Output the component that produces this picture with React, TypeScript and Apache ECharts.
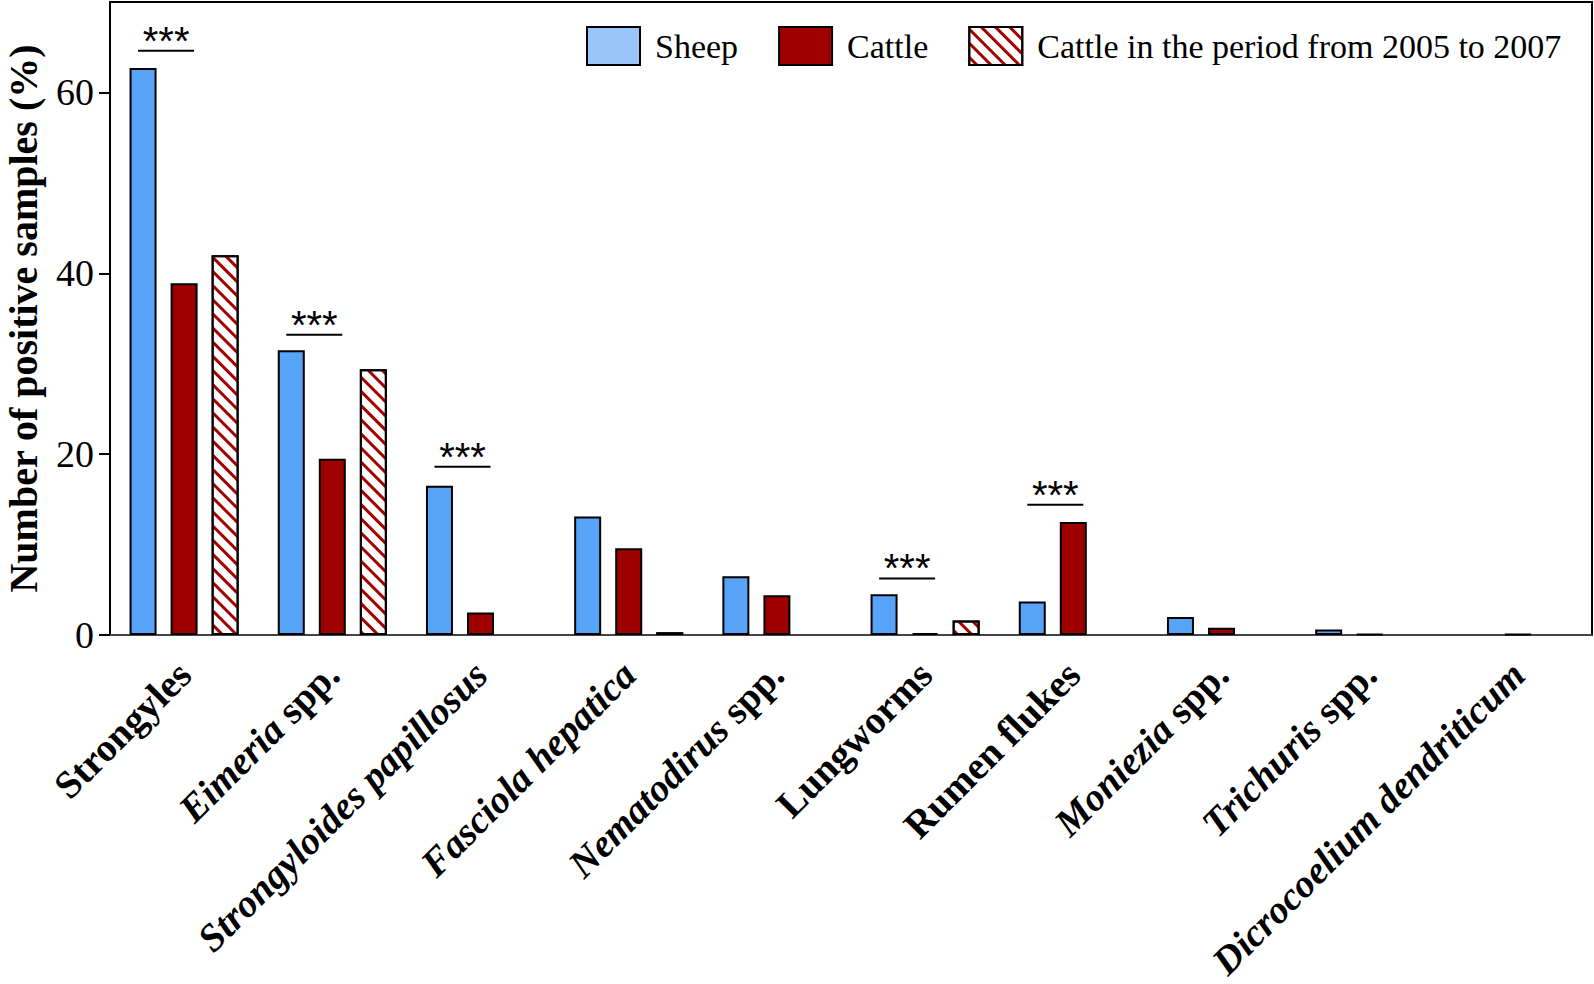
import React, { useEffect, useRef } from "react";
import * as echarts from "echarts";

const categories = [
  "Strongyles",
  "Eimeria spp.",
  "Strongyloides papillosus",
  "Fasciola hepatica",
  "Nematodirus spp.",
  "Lungworms",
  "Rumen flukes",
  "Moniezia spp.",
  "Trichuris spp.",
  "Dicrocoelium dendriticum",
];
const italicNames = ["Strongyloides papillosus", "Fasciola hepatica", "Dicrocoelium dendriticum"];

const sheep = [62.7, 31.5, 16.5, 13.1, 6.5, 4.5, 3.7, 2.0, 0.6, null];
const cattle = [38.9, 19.5, 2.5, 9.6, 4.4, 0.2, 12.5, 0.8, 0.1, 0.1];
const cattle2005 = [42.0, 29.4, null, 0.3, null, 1.6, null, null, null, null];

// significance markers: [category index, line level (%)]
const significance = [
  [0, 64.6],
  [1, 33.2],
  [2, 18.6],
  [5, 6.25],
  [6, 14.4],
];

const yTicks = [0, 20, 40, 60];

const SERIF = "'Liberation Serif', 'Times New Roman', serif";

function labelFormatter(name: string) {
  if (name.endsWith(" spp.")) {
    return "{i|" + name.slice(0, -5) + "}{b| spp.}";
  }
  if (italicNames.indexOf(name) >= 0) return "{i|" + name + "}";
  return "{b|" + name + "}";
}

export default function App() {
  const ref = useRef<HTMLDivElement>(null);
  useEffect(() => {
    document.body.style.margin = "0";
    const chart = echarts.init(ref.current!, null, { renderer: "svg" });
    const border = { borderColor: "#000", borderWidth: 2 };
    const option: any = {
      animation: false,
      backgroundColor: "#fff",
      grid: {
        left: 110,
        right: 2,
        top: 2,
        bottom: 349,
        containLabel: false,
        outerBoundsMode: "none",
        show: true,
        borderColor: "#000",
        borderWidth: 2,
        backgroundColor: "transparent",
      },
      legend: {
        left: 581,
        top: 21,
        itemWidth: 53,
        itemHeight: 38,
        itemGap: 40,
        icon: "rect",
        textStyle: {
          fontFamily: SERIF,
          fontSize: 34,
          color: "#000",
          padding: [0, 0, 0, 10],
        },
        data: [
          { name: "Sheep", itemStyle: { color: "#98c5fa", borderColor: "#000", borderWidth: 2 } },
          { name: "Cattle", itemStyle: { borderColor: "#000", borderWidth: 2 } },
          { name: "Cattle in the period from 2005 to 2007", itemStyle: { borderColor: "#000", borderWidth: 2 } },
        ],
      },
      xAxis: {
        type: "category",
        data: categories,
        axisTick: { show: false },
        axisLine: { lineStyle: { color: "#444", width: 2 } },
        axisLabel: {
          interval: 0,
          rotate: 45,
          margin: 33,
          formatter: labelFormatter,
          rich: {
            i: { fontFamily: SERIF, fontSize: 39, fontWeight: "bold", fontStyle: "italic", color: "#000" },
            b: { fontFamily: SERIF, fontSize: 39, fontWeight: "bold", color: "#000" },
          },
        },
      },
      yAxis: {
        type: "value",
        min: 0,
        max: 70,
        interval: 10,
        name: "Number of positive samples (%)",
        nameLocation: "middle",
        nameGap: 68,
        nameMoveOverlap: false,
        nameTextStyle: {
          fontFamily: SERIF,
          fontSize: 40,
          lineHeight: 38,
          fontWeight: "bold",
          color: "#000",
        },
        splitLine: { show: false },
        axisLine: { show: true, lineStyle: { color: "#000", width: 2 } },
        axisTick: { show: true, length: 11, lineStyle: { color: "#000", width: 2 }, customValues: yTicks },
        axisLabel: {
          customValues: yTicks,
          margin: 16,
          fontFamily: SERIF,
          fontSize: 38,
          color: "#000",
        },
      },
      series: [
        {
          name: "Sheep",
          type: "bar",
          data: sheep,
          barWidth: 27,
          barGap: "52%",
          itemStyle: { color: "#56a3f8", ...border },
        },
        {
          name: "Cattle",
          type: "bar",
          data: cattle,
          barWidth: 27,
          barGap: "52%",
          itemStyle: { color: "#9e0000", ...border },
        },
        {
          name: "Cattle in the period from 2005 to 2007",
          type: "bar",
          data: cattle2005,
          barWidth: 27,
          barGap: "52%",
          itemStyle: {
            color: "#ffffff",
            ...border,
            decal: {
              symbol: "rect",
              symbolSize: 1,
              dashArrayX: [[1, 0]],
              dashArrayY: [3, 7],
              rotation: Math.PI / 4,
              color: "#a30000",
            },
          },
        },
        {
          type: "custom",
          name: "sig",
          data: significance,
          silent: true,
          z: 10,
          renderItem: (params: any, api: any) => {
            const p = api.coord([api.value(0), api.value(1)]);
            const x1 = p[0] - 46;
            const x2 = p[0] + 10;
            return {
              type: "group",
              children: [
                {
                  type: "line",
                  shape: { x1, y1: p[1], x2, y2: p[1] },
                  style: { stroke: "#000", lineWidth: 2 },
                },
                {
                  type: "text",
                  x: (x1 + x2) / 2,
                  y: p[1] - 10,
                  style: {
                    text: "***",
                    fontFamily: "'Liberation Sans', Arial, sans-serif",
                    fontSize: 40,
                    fill: "#000",
                    align: "center",
                    verticalAlign: "middle",
                  },
                },
              ],
            };
          },
        },
      ],
    };
    chart.setOption(option);
    return () => chart.dispose();
  }, []);
  return (
    <div
      ref={ref}
      style={{ position: "absolute", left: 0, top: 0, width: 1594, height: 984 }}
    />
  );
}
